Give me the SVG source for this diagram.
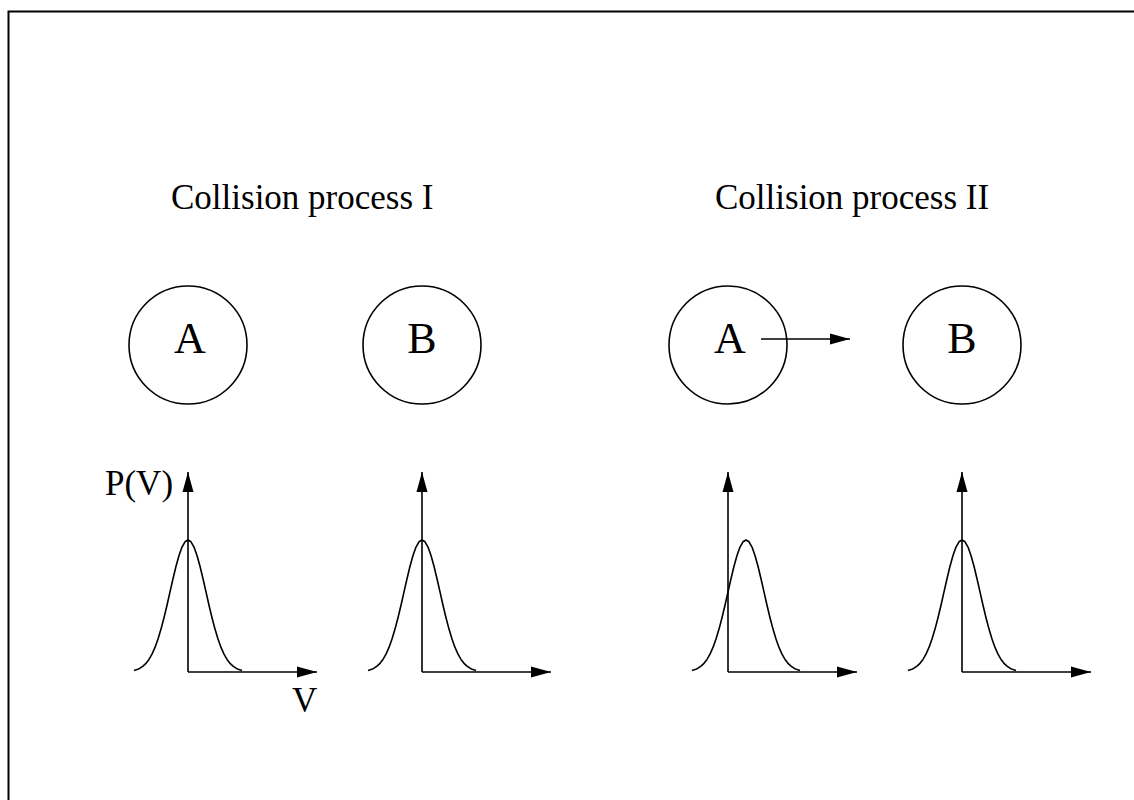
<svg xmlns="http://www.w3.org/2000/svg" xmlns:xlink="http://www.w3.org/1999/xlink" width="1134" height="800" viewBox="0 0 1134 800">
<style>
  .ln { fill: none; stroke: #000; stroke-width: 1.6; }
  .t { font-family: "Liberation Serif", "Times New Roman", serif; fill: #000; }
  .lbl { font-size: 35px; }
  .big { font-size: 44px; text-anchor: middle; }
</style>
<defs>
  <marker id="ah" markerUnits="userSpaceOnUse" markerWidth="20" markerHeight="12" refX="20" refY="6" orient="auto">
    <path d="M0,0.5 L20,6 L0,11.5 Z" fill="#000"/>
  </marker>
  <path id="gauss" class="ln" d="M-54,-1.5 L-51,-2.4 L-48,-3.8 L-45,-5.8 L-42,-8.7 L-39,-12.6 L-36,-17.9 L-33,-24.6 L-30,-32.9 L-27,-42.9 L-24,-54.3 L-21,-66.8 L-18,-80.1 L-15,-93.3 L-12,-105.7 L-9,-116.5 L-6,-124.9 L-3,-130.2 L0,-132 L3,-130.2 L6,-124.9 L9,-116.5 L12,-105.7 L15,-93.3 L18,-80.1 L21,-66.8 L24,-54.3 L27,-42.9 L30,-32.9 L33,-24.6 L36,-17.9 L39,-12.6 L42,-8.7 L45,-5.8 L48,-3.8 L51,-2.4 L54,-1.5" stroke-linejoin="round"/>
</defs>
<rect x="0" y="0" width="1134" height="800" fill="#fff"/>
<rect x="8.5" y="11.5" width="1200" height="900" fill="none" stroke="#000" stroke-width="2"/>

<text class="t lbl" x="171" y="209">Collision process I</text>
<text class="t lbl" x="715" y="209">Collision process II</text>

<g id="nodeA1">
  <circle class="ln" cx="188" cy="345" r="59"/>
  <text class="t big" x="190" y="353">A</text>
</g>
<g id="nodeB1">
  <circle class="ln" cx="422" cy="345" r="59"/>
  <text class="t big" x="422" y="353">B</text>
</g>
<g id="nodeA2">
  <circle class="ln" cx="728" cy="345" r="59"/>
  <text class="t big" x="730" y="353">A</text>
</g>
<g id="nodeB2">
  <circle class="ln" cx="962" cy="345" r="59"/>
  <text class="t big" x="962" y="353">B</text>
</g>

<g id="graph1">
  <line class="ln" x1="188" y1="672" x2="188" y2="472" marker-end="url(#ah)"/>
  <line class="ln" x1="188" y1="672" x2="317" y2="672" marker-end="url(#ah)"/>
  <use xlink:href="#gauss" transform="translate(188,672)"/>
  <text class="t lbl" x="105" y="495">P(V)</text>
  <text class="t lbl" x="292" y="712">V</text>
</g>
<g id="graph2">
  <line class="ln" x1="422" y1="672" x2="422" y2="472" marker-end="url(#ah)"/>
  <line class="ln" x1="422" y1="672" x2="551" y2="672" marker-end="url(#ah)"/>
  <use xlink:href="#gauss" transform="translate(422,672)"/>
</g>
<g id="graph3">
  <line class="ln" x1="728" y1="672" x2="728" y2="472" marker-end="url(#ah)"/>
  <line class="ln" x1="728" y1="672" x2="857" y2="672" marker-end="url(#ah)"/>
  <use xlink:href="#gauss" transform="translate(746,672)"/>
</g>
<g id="graph4">
  <line class="ln" x1="962" y1="672" x2="962" y2="472" marker-end="url(#ah)"/>
  <line class="ln" x1="962" y1="672" x2="1091" y2="672" marker-end="url(#ah)"/>
  <use xlink:href="#gauss" transform="translate(962,672)"/>
</g>

<g id="connectors">
  <line class="ln" x1="761" y1="339" x2="850" y2="339" marker-end="url(#ah)"/>
</g>
</svg>
